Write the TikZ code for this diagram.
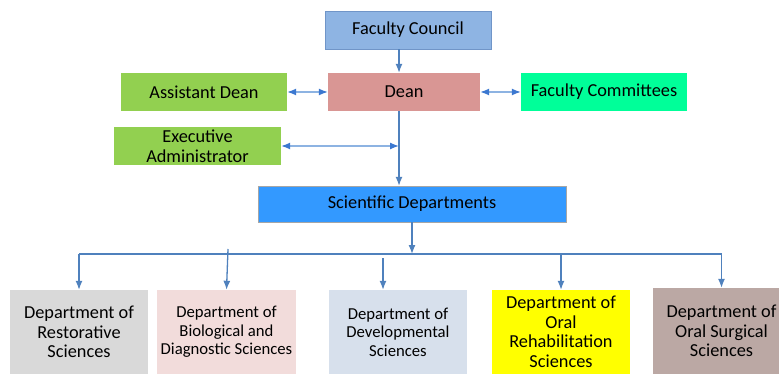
\documentclass[tikz,border=0pt]{standalone}
\usepackage{fontspec}
\setmainfont{Carlito}
\usetikzlibrary{arrows.meta}
\definecolor{councilblue}{HTML}{8EB4E3}
\definecolor{councilline}{HTML}{7095C8}
\definecolor{deanred}{HTML}{D99694}
\definecolor{leafgreen}{HTML}{92D050}
\definecolor{springgreen}{HTML}{00FF99}
\definecolor{sciblue}{HTML}{3399FF}
\definecolor{linkblue}{HTML}{4F81BD}
\definecolor{pairline}{HTML}{8DB3E2}
\definecolor{pairtip}{HTML}{3C78D0}
\definecolor{restgray}{HTML}{D9D9D9}
\definecolor{biopink}{HTML}{F2DCDB}
\definecolor{devblue}{HTML}{D7E0EC}
\definecolor{rehabyellow}{HTML}{FFFF00}
\definecolor{surgtaupe}{HTML}{BBA8A4}
\tikzset{
  unit/.style={rectangle, inner sep=0pt, align=center, font=\fontsize{18.3}{19.5}\selectfont},
  link/.style={draw=linkblue, line width=1.3pt, -{Latex[length=9pt,width=7pt]}},
  bus/.style={draw=linkblue, line width=1.3pt},
  twoway/.style={draw=pairline, line width=1.3pt,
    {Latex[length=9pt,width=7pt,color=pairtip]}-{Latex[length=9pt,width=7pt,color=pairtip]}},
}
\begin{document}
\begin{tikzpicture}[x=1pt,y=-1pt]
  \useasboundingbox (0,0) rectangle (779,374);
  \clip (0,0) rectangle (779,374);
  % top levels
  \node[unit, fill=councilblue, draw=councilline, minimum width=166pt, minimum height=38pt] (council) at (408,30) {Faculty Council};
  \node[unit, fill=deanred, minimum width=152pt, minimum height=38pt] (dean) at (404,92) {Dean};
  \node[unit, fill=leafgreen, minimum width=166pt, minimum height=38pt] (assist) at (204,92) {Assistant Dean};
  \node[unit, fill=springgreen, minimum width=166pt, minimum height=38pt] (committees) at (604,92) {Faculty Committees};
  \node[unit, fill=leafgreen, minimum width=167pt, minimum height=38pt] (exec) at (197.5,146) {Executive\\Administrator};
  \node[unit, fill=sciblue, draw=gray!70, minimum width=308pt, minimum height=36pt] (sci) at (412,204) {Scientific Departments};
  % departments
  \node[unit, fill=restgray, minimum width=138pt, minimum height=84pt] (dept1) at (79,332) {Department of\\Restorative\\Sciences};
  \node[unit, fill=biopink, minimum width=139pt, minimum height=84pt, font=\fontsize{16.7}{18.5}\selectfont] (dept2) at (226.5,332) {Department of\\Biological and\\Diagnostic Sciences};
  \node[unit, fill=devblue, minimum width=138pt, minimum height=84pt, font=\fontsize{16.7}{18.5}\selectfont] (dept3) at (398,332) {Department of\\Developmental\\Sciences};
  \node[unit, fill=rehabyellow, minimum width=138pt, minimum height=84pt] (dept4) at (561,332) {Department of\\Oral\\Rehabilitation\\Sciences};
  \node[unit, fill=surgtaupe, minimum width=137pt, minimum height=86pt] (dept5) at (721.5,331) {Department of\\Oral Surgical\\Sciences};
  % connectors
  \coordinate (spine) at (399,0);
  \coordinate (rail) at (0,254);
  \draw[link] (spine |- council.south) -- (spine |- dean.north);
  \draw[link] (spine |- dean.south) -- (spine |- sci.north);
  \draw[twoway] (assist.east) -- (dean.west);
  \draw[twoway] (dean.east) -- (committees.west);
  \draw[twoway] (exec.east) -- (exec.east -| spine);
  \draw[link] (sci.south) -- (sci.south |- rail);
  \draw[bus] (rail -| dept1.north) -- (rail -| dept5.north);
  \coordinate (tail2) at (228,249);
  \coordinate (tail3) at (383,258);
  \draw[link] (rail -| dept1.north) -- (dept1.north);
  \draw[link] (tail2) -- (dept2.north);
  \draw[link] (tail3) -- (dept3.north -| tail3);
  \draw[link] (rail -| dept4.north) -- (dept4.north);
  \draw[link] (rail -| dept5.north) -- (dept5.north);
\end{tikzpicture}
\end{document}
